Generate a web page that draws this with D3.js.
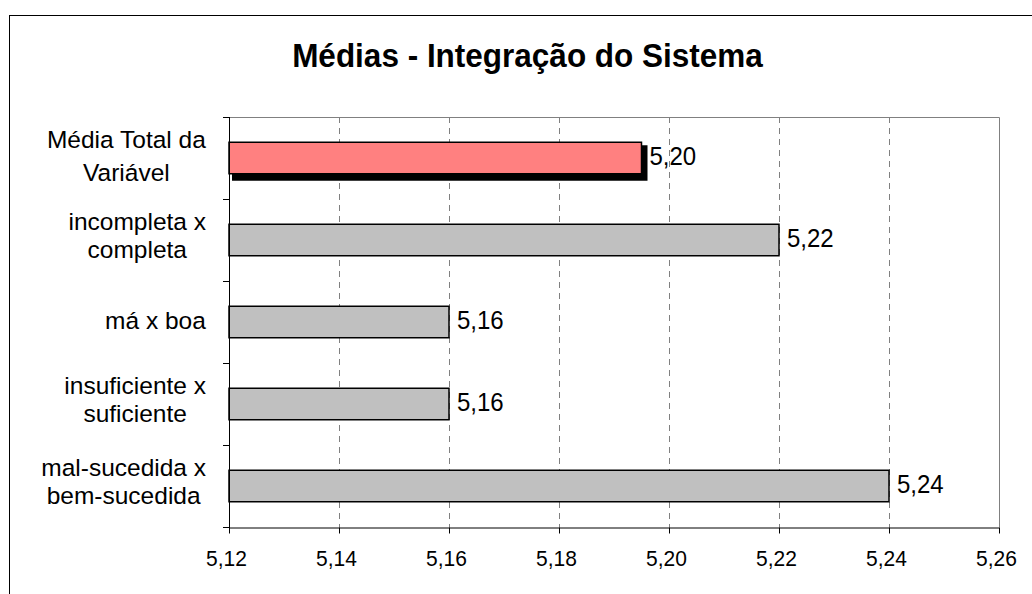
<!DOCTYPE html>
<html lang="pt">
<head>
  <meta charset="UTF-8">
  <title>Médias - Integração do Sistema</title>
  <script src="https://d3js.org/d3.v7.min.js"></script>
  <style>
    body { margin: 0; background: #fff; font-family: "Liberation Sans", Arial, sans-serif; }
    .grid line { stroke: #808080; stroke-width: 1px; stroke-dasharray: 6,5; }
    .bar { stroke: #000; stroke-width: 1.5px; }
  </style>
</head>
<body>
  <svg width="1032" height="594"></svg>
  <script>
    // dados
    const categories = [
      ["Média Total da", "Variável"],
      ["incompleta x", "completa"],
      ["má x boa"],
      ["insuficiente x", "suficiente"],
      ["mal-sucedida x", "bem-sucedida"]
    ];
    const values = [5.195, 5.22, 5.16, 5.16, 5.24];
    const highlight = [true, false, false, false, false];
    const xTicks = [5.12, 5.14, 5.16, 5.18, 5.20, 5.22, 5.24, 5.26];
    const title = "Médias - Integração do Sistema";

    const ptBR = d3.formatLocale({ decimal: ",", thousands: ".", grouping: [3], currency: ["R$", ""] });
    const fmt = ptBR.format(".2f");
    const fmtVal = v => fmt(Math.round(v * 100 + 1e-6) / 100);

    const svg = d3.select("svg");
    const plot = { left: 229, right: 999, top: 117, bottom: 527 };

    // moldura externa
    svg.append("rect")
      .attr("x", 9.5).attr("y", 15.5)
      .attr("width", 1100).attr("height", 700)
      .attr("fill", "none").attr("stroke", "#000");

    // titulo (levemente esticado na vertical, como no original)
    svg.append("text")
      .attr("transform", "translate(527.5,67) scale(1,1.07)")
      .attr("text-anchor", "middle")
      .style("font-size", "31.5px").style("font-weight", "bold")
      .text(title);

    const x = d3.scaleLinear().domain([5.12, 5.26]).range([plot.left, plot.right]);
    const y = d3.scaleBand()
      .domain(d3.range(categories.length))
      .range([plot.top, plot.bottom])
      .paddingInner(0.616).paddingOuter(0.308);

    // borda da area de plotagem (cinza)
    svg.append("path")
      .attr("d", `M${plot.left},${plot.top + 0.5}H${plot.right + 0.5}V${plot.bottom}`)
      .attr("fill", "none").attr("stroke", "#808080");

    // grade tracejada
    svg.append("g").attr("class", "grid")
      .selectAll("line")
      .data(xTicks.slice(1, -1))
      .join("line")
      .attr("x1", d => Math.round(x(d)) + 0.5).attr("x2", d => Math.round(x(d)) + 0.5)
      .attr("y1", plot.top).attr("y2", plot.bottom);

    // sombra da barra destacada
    const idx = d3.range(values.length);
    svg.append("g").selectAll("rect")
      .data(idx.filter(i => highlight[i]))
      .join("rect")
      .attr("x", i => x(5.12) + 3)
      .attr("y", i => y(i) + 3)
      .attr("width", i => x(values[i]) - x(5.12) + 3)
      .attr("height", y.bandwidth() + 4)
      .attr("fill", "#000");

    // barras
    svg.append("g").selectAll("rect")
      .data(idx)
      .join("rect")
      .attr("class", "bar")
      .attr("x", x(5.12))
      .attr("y", i => y(i))
      .attr("width", i => x(values[i]) - x(5.12))
      .attr("height", y.bandwidth())
      .attr("fill", i => highlight[i] ? "#FF8080" : "#C0C0C0");

    // rotulos de valor
    svg.append("g").selectAll("text")
      .data(idx)
      .join("text")
      .attr("transform", i => `translate(${x(values[i]) + 8},${y(i) + y.bandwidth() / 2 + 7}) scale(1,1.06)`)
      .style("font-size", "24px")
      .text(i => fmtVal(values[i]));

    // eixo X
    const xAxis = svg.append("g")
      .attr("transform", `translate(0,${plot.bottom + 0.5})`)
      .call(d3.axisBottom(x).tickValues(xTicks).tickFormat(fmt).tickSize(6).tickPadding(24).tickSizeOuter(0));
    xAxis.select(".domain").attr("stroke", "#000");
    xAxis.selectAll(".tick text")
      .attr("dy", null)
      .attr("y", null)
      .attr("transform", "translate(-3,38) scale(1,1.07)")
      .style("font-size", "21px")
      .style("font-family", "'Liberation Sans', Arial, sans-serif");

    // eixo Y: linha e marcas nas divisas das categorias
    const yAxis = svg.append("g");
    yAxis.append("line")
      .attr("x1", plot.left + 0.5).attr("x2", plot.left + 0.5)
      .attr("y1", plot.top).attr("y2", plot.bottom + 1)
      .attr("stroke", "#000");
    yAxis.selectAll(".tick")
      .data(d3.range(categories.length + 1))
      .join("line")
      .attr("x1", plot.left - 6).attr("x2", plot.left)
      .attr("y1", k => Math.round(plot.top + k * y.step()) + 0.5)
      .attr("y2", k => Math.round(plot.top + k * y.step()) + 0.5)
      .attr("stroke", "#000");

    // rotulos das categorias (centralizados em bloco, alinhados a direita)
    const labels = svg.append("g").selectAll("g")
      .data(idx)
      .join("g");
    labels.each(function (i) {
      const g = d3.select(this);
      const lines = categories[i];
      const gap = i === 0 ? 33 : 28.5;
      const c = y(i) + y.bandwidth() / 2;
      const b1 = 6.5 - (lines.length - 1) * 17;
      const t = g.append("text")
        .attr("text-anchor", "middle")
        .style("font-size", "24.5px");
      lines.forEach((ln, k) => {
        t.append("tspan").attr("x", 0).attr("y", b1 + k * gap).text(ln);
      });
      const w = t.node().getBBox().width;
      g.attr("transform", `translate(${206 - w / 2},${c})`);
    });
  </script>
</body>
</html>
